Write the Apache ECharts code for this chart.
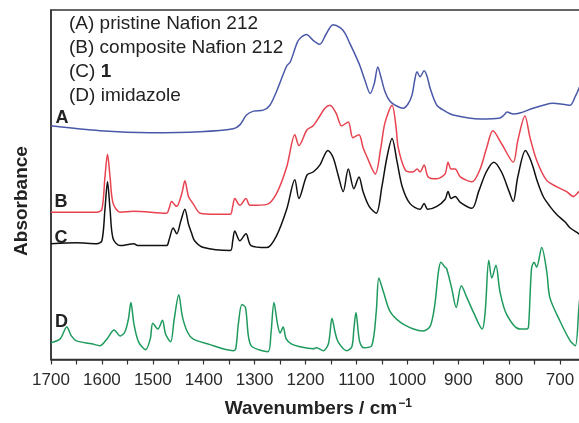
<!DOCTYPE html>
<html>
<head>
<meta charset="utf-8">
<script src="https://cdn.jsdelivr.net/npm/echarts@6/dist/echarts.min.js"></script>
<style>
  html, body { margin: 0; padding: 0; background: #fff; overflow: hidden; }
  #chart { width: 600px; height: 423px; }
</style>
</head>
<body>
<div id="chart"></div>
<script>
// FT-IR spectra, offset vertically (absorbance in arbitrary units), wavenumber in cm^-1

// (A) pristine Nafion 212
const spectrumA = [
  [1700, 238], [1604, 233], [1505, 231], [1407, 232], [1342, 235], [1329, 239],
  [1316, 249], [1302, 253], [1283, 254], [1270, 259], [1257, 273], [1237, 299],
  [1230, 303], [1217, 322], [1211, 327], [1198, 331], [1185, 325], [1172, 321],
  [1160, 331], [1146, 341], [1132, 338], [1122, 332], [1113, 322], [1103, 311],
  [1093, 299], [1083, 284], [1073, 271], [1065, 281], [1058, 298], [1052, 288],
  [1044, 273], [1034, 263], [1020, 258], [1008, 256], [999, 260], [991, 269],
  [985, 286], [981, 293], [975, 288], [967, 294], [961, 288], [955, 276],
  [942, 259], [926, 253], [910, 249], [857, 245], [818, 246], [810, 249],
  [804, 252], [792, 250], [779, 251], [753, 256], [733, 259], [714, 261],
  [694, 260], [680, 259], [670, 268], [663, 276], [650, 295]
];

// (B) composite Nafion 212
const spectrumB = [
  [1700, 150], [1610, 150], [1600, 153], [1594, 186], [1589, 209], [1584, 186],
  [1578, 159], [1564, 150], [1538, 151], [1473, 149], [1468, 154], [1463, 161],
  [1456, 157], [1453, 156], [1443, 169], [1437, 182], [1430, 166], [1424, 161],
  [1420, 158], [1407, 149], [1374, 148], [1348, 148], [1343, 156], [1339, 164],
  [1329, 157], [1317, 164], [1309, 157], [1276, 158], [1257, 169], [1237, 196],
  [1221, 229], [1213, 218], [1197, 234], [1185, 238], [1172, 248], [1162, 256],
  [1152, 259], [1140, 251], [1129, 238], [1116, 242], [1107, 226], [1095, 229],
  [1087, 216], [1079, 206], [1063, 189], [1052, 216], [1044, 241], [1030, 259],
  [1022, 236], [1018, 216], [1004, 193], [989, 191], [981, 194], [975, 191],
  [967, 198], [959, 186], [942, 184], [926, 189], [920, 201], [914, 194],
  [906, 194], [896, 186], [873, 181], [857, 194], [844, 216], [832, 233],
  [814, 219], [792, 201], [783, 223], [769, 248], [759, 226], [746, 203],
  [727, 183], [707, 176], [687, 171], [674, 166], [663, 171], [650, 176]
];

// (C) compound 1
const spectrumC = [
  [1700, 118], [1650, 119], [1610, 118], [1600, 121], [1594, 153], [1589, 181],
  [1584, 153], [1578, 123], [1564, 116], [1537, 118], [1530, 116], [1473, 116],
  [1468, 122], [1460, 134], [1453, 128], [1445, 141], [1437, 153], [1430, 138],
  [1424, 129], [1418, 121], [1400, 114], [1348, 111], [1343, 121], [1339, 131],
  [1329, 121], [1317, 128], [1307, 116], [1276, 114], [1257, 126], [1237, 153],
  [1221, 183], [1213, 164], [1197, 188], [1185, 191], [1172, 198], [1156, 213],
  [1146, 206], [1136, 188], [1126, 171], [1116, 194], [1105, 174], [1095, 186],
  [1087, 171], [1075, 156], [1061, 149], [1050, 176], [1040, 206], [1030, 225],
  [1020, 201], [1010, 176], [995, 159], [975, 153], [967, 159], [960, 153],
  [942, 156], [926, 163], [920, 171], [914, 164], [906, 166], [896, 160],
  [873, 154], [860, 171], [845, 191], [830, 201], [815, 191], [800, 171],
  [792, 161], [783, 186], [768, 213], [760, 206], [753, 196], [745, 182],
  [733, 166], [720, 156], [707, 148], [690, 140], [680, 134], [663, 128], [650, 123]
];

// (D) imidazole
const spectrumD = [
  [1700, 17], [1682, 21], [1669, 33], [1660, 24], [1650, 19], [1620, 16],
  [1604, 14], [1590, 21], [1576, 30], [1564, 24], [1555, 28], [1548, 41],
  [1543, 58], [1537, 36], [1528, 18], [1514, 10], [1505, 21], [1500, 37],
  [1490, 31], [1481, 40], [1475, 26], [1465, 18], [1458, 41], [1449, 66],
  [1442, 44], [1432, 28], [1421, 21], [1393, 16], [1342, 9], [1337, 11],
  [1332, 36], [1325, 56], [1318, 53], [1312, 23], [1305, 13], [1274, 8],
  [1268, 26], [1262, 58], [1255, 36], [1250, 27], [1244, 33], [1238, 21],
  [1228, 16], [1211, 13], [1185, 11], [1178, 12], [1165, 9], [1155, 16],
  [1148, 42], [1142, 28], [1136, 18], [1119, 9], [1109, 13], [1105, 31],
  [1101, 48], [1094, 19], [1086, 12], [1070, 14], [1061, 49], [1056, 83],
  [1047, 69], [1034, 49], [1014, 38], [988, 31], [969, 29], [955, 34],
  [946, 56], [939, 89], [934, 99], [926, 94], [923, 93], [913, 73],
  [904, 53], [894, 75], [883, 63], [870, 48], [853, 31], [847, 49],
  [840, 101], [834, 83], [826, 96], [818, 69], [805, 46], [779, 31],
  [766, 31], [762, 33], [756, 93], [751, 99], [746, 94], [736, 114],
  [726, 89], [720, 63], [700, 39], [680, 19], [670, 14], [663, 53], [655, 96]
];

// legend lines and curve tags
const legendLines = ['(A) pristine Nafion 212', '(B) composite Nafion 212', '(C) ', '(D) imidazole'];
const compoundNumber = '1';
const curveTags = ['A', 'B', 'C', 'D'];
const xTitle = 'Wavenumbers / cm';
const xTitleSup = '\u22121';
const yTitle = 'Absorbance';

const colors = ['#4a58a8', '#e8424f', '#111111', '#1f9a5e'];
const seriesData = [spectrumA, spectrumB, spectrumC, spectrumD];

const FONT = '"Liberation Sans", Arial, Helvetica, sans-serif';
const chart = echarts.init(document.getElementById('chart'), null, { renderer: 'canvas' });

const legendY = [24, 47.5, 72, 95.5];
const tagPos = [[62, 118.5], [61, 202], [61, 238.5], [61.5, 322.5]];

const graphics = [];
legendLines.forEach((t, i) => {
  graphics.push({
    type: 'text', x: 69, y: legendY[i],
    style: i === 2 ? {
      text: '{n|' + t + '}{b|' + compoundNumber + '}',
      rich: {
        n: { fontFamily: FONT, fontSize: 19, fill: '#222' },
        b: { fontFamily: FONT, fontSize: 19, fontWeight: 'bold', fill: '#222' }
      },
      verticalAlign: 'middle'
    } : {
      text: t, fontFamily: FONT, fontSize: 19, fill: '#222', verticalAlign: 'middle'
    }
  });
});
curveTags.forEach((t, i) => {
  graphics.push({
    type: 'text', x: tagPos[i][0], y: tagPos[i][1],
    style: { text: t, fontFamily: FONT, fontSize: 18, fontWeight: 'bold', fill: '#222', align: 'center', verticalAlign: 'middle' }
  });
});
graphics.push({
  type: 'text', x: 22, y: 201, rotation: Math.PI / 2,
  style: { text: yTitle, fontFamily: FONT, fontSize: 19, fontWeight: 'bold', fill: '#222', align: 'center', verticalAlign: 'middle' }
});

chart.setOption({
  animation: false,
  backgroundColor: '#fff',
  grid: {
    left: 51, top: 10, width: 534.5, height: 356,
    show: true, borderColor: '#333', borderWidth: 1.5, backgroundColor: 'transparent'
  },
  xAxis: {
    type: 'value', inverse: true, min: 650, max: 1700, interval: 50,
    axisLine: { show: true, lineStyle: { color: '#333', width: 1.5 } },
    axisTick: { show: true, length: 5, inside: false, lineStyle: { color: '#333', width: 1.2 } },
    axisLabel: {
      show: true, margin: 12, fontFamily: FONT, fontSize: 17, color: '#2a2a2a',
      formatter: v => (v % 100 === 0 ? String(v) : '')
    },
    splitLine: { show: false },
    name: '{t|' + xTitle + '}{s|' + xTitleSup + '}',
    nameLocation: 'middle', nameGap: 38,
    nameTextStyle: {
      rich: {
        t: { fontFamily: FONT, fontSize: 19, fontWeight: 'bold', color: '#222' },
        s: { fontFamily: FONT, fontSize: 12, fontWeight: 'bold', color: '#222', verticalAlign: 'top', padding: [0, 0, 10, 1] }
      }
    }
  },
  yAxis: {
    type: 'value', min: 0, max: 356,
    axisLine: { show: true, lineStyle: { color: '#333', width: 1.5 } },
    axisTick: { show: false }, axisLabel: { show: false }, splitLine: { show: false }
  },
  series: seriesData.map((d, i) => ({
    type: 'line', data: d, showSymbol: false, smooth: 0.3, clip: true,
    lineStyle: { color: colors[i], width: 1.5 }, z: 3 + i
  })),
  graphic: graphics
});
</script>
</body>
</html>
